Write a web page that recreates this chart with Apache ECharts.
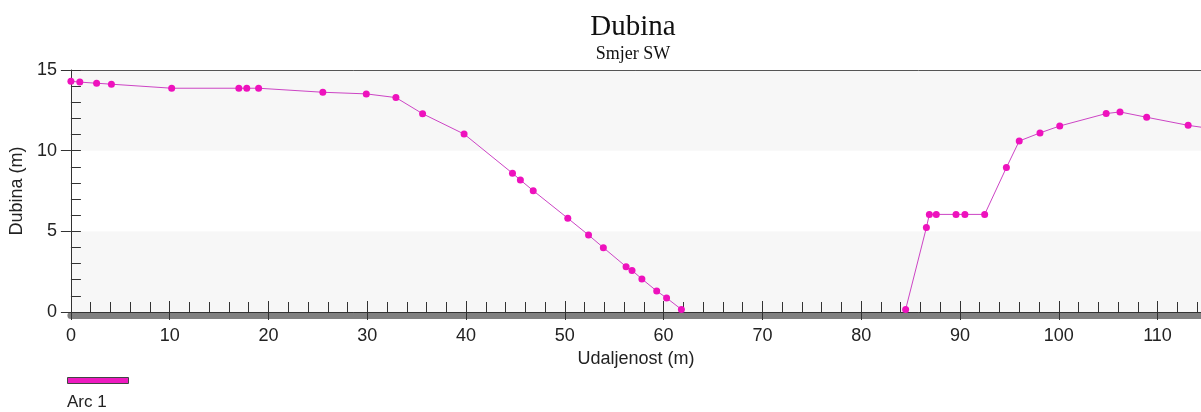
<!DOCTYPE html>
<html>
<head>
<meta charset="utf-8">
<script src="https://cdn.jsdelivr.net/npm/echarts@6/dist/echarts.min.js"></script>
<style>
  html, body { margin: 0; padding: 0; background: #fff; }
  #chart { width: 1201px; height: 412px; }
</style>
</head>
<body>
<div id="chart"></div>
<script>
// udaljenost (m) i dubina (m), procitano sa slike; null = prekid linije
const udaljenost = [0, 0.9, 2.6, 4.1, 10.2, 17.0, 17.8, 19.0, 25.5, 29.9, 32.9, 35.6, 39.8,
  44.7, 45.5, 46.8, 50.3, 52.4, 53.9, 56.2, 56.8, 57.8, 59.3, 60.3, 61.8,
  73,
  84.5, 86.6, 86.9, 87.6, 89.6, 90.5, 92.5, 94.7, 96.0, 98.1, 100.1, 104.8, 106.2, 108.9, 113.1, 115.6];
const dubina = [14.3, 14.25, 14.18, 14.12, 13.87, 13.87, 13.87, 13.87, 13.62, 13.52, 13.29, 12.29, 11.03,
  8.6, 8.18, 7.52, 5.81, 4.77, 3.99, 2.81, 2.58, 2.05, 1.3, 0.87, 0.16,
  null,
  0.16, 5.23, 6.05, 6.05, 6.05, 6.05, 6.05, 8.95, 10.6, 11.1, 11.53, 12.3, 12.4, 12.07, 11.57, 11.35];
const seriesName = 'Arc 1';
const xMin = 0, xMax = 114.4;
const yMin = 0, yMax = 15;

const points = udaljenost.map((x, i) => [x, dubina[i]]);

const axisColor = '#333';
const labelFont = 'Liberation Sans, Arial, sans-serif';

let myChart = echarts.init(document.getElementById('chart'));
myChart.setOption({
  animation: false,
  title: {
    text: 'Dubina',
    subtext: 'Smjer SW',
    left: 628,
    textAlign: 'center',
    top: 8,
    itemGap: 3,
    textStyle: { fontFamily: 'Liberation Serif, Times New Roman, serif', fontSize: 29, fontWeight: 'normal', color: '#111' },
    subtextStyle: { fontFamily: 'Liberation Serif, Times New Roman, serif', fontSize: 18, color: '#111' }
  },
  // legenda: samo traka, tekst ispod ide kroz graphic
  legend: {
    left: 67,
    top: 377,
    padding: 0,
    itemWidth: 61,
    itemHeight: 6,
    icon: 'rect',
    itemStyle: { color: '#ee1ac0', borderColor: '#444', borderWidth: 1 },
    formatter: () => '',
    textStyle: { fontSize: 1 },
    data: [seriesName]
  },
  graphic: [
    {
      type: 'text',
      left: 67,
      top: 394,
      style: { text: seriesName, font: '17px Liberation Sans, Arial, sans-serif', fill: '#222' }
    }
  ],
  grid: { left: 68, right: 0, top: 70, bottom: 100 },
  xAxis: [
    {
      type: 'value', min: xMin, max: xMax, interval: 10, position: 'bottom', z: 3,
      name: 'Udaljenost (m)', nameLocation: 'middle', nameGap: 32,
      nameTextStyle: { fontFamily: labelFont, fontSize: 18, color: '#222' },
      axisLine: { show: true, lineStyle: { color: axisColor, width: 1 } },
      axisTick: { show: true, inside: true, length: 11, lineStyle: { color: axisColor } },
      minorTick: { show: true, splitNumber: 5, length: 10, lineStyle: { color: axisColor } },
      axisLabel: { fontFamily: labelFont, fontSize: 18, color: '#222', margin: 15, showMaxLabel: false },
      splitLine: { show: false }
    },
    {
      type: 'value', min: xMin, max: xMax, interval: 10, position: 'bottom', z: 3,
      axisLine: { show: false },
      axisTick: { show: true, inside: false, length: 8, lineStyle: { color: axisColor } },
      axisLabel: { show: false },
      splitLine: { show: false }
    },
    {
      type: 'value', min: xMin, max: xMax, position: 'bottom', offset: 3, z: 1,
      axisLine: { show: true, lineStyle: { color: '#808080', width: 7 } },
      axisTick: { show: false },
      axisLabel: { show: false },
      splitLine: { show: false }
    },
    {
      type: 'value', min: xMin, max: xMax, position: 'top', z: 3,
      axisLine: { show: true, lineStyle: { color: '#555', width: 1 } },
      axisTick: { show: false },
      axisLabel: { show: false },
      splitLine: { show: false }
    }
  ],
  yAxis: [
    {
      type: 'value', min: yMin, max: yMax, interval: 5, position: 'left', z: 3,
      name: 'Dubina (m)', nameLocation: 'middle', nameGap: 39,
      nameTextStyle: { fontFamily: labelFont, fontSize: 18, color: '#222' },
      axisLine: { show: true, lineStyle: { color: axisColor, width: 1 } },
      axisTick: { show: true, inside: true, length: 10, lineStyle: { color: axisColor } },
      minorTick: { show: true, splitNumber: 5, length: 10, lineStyle: { color: axisColor } },
      axisLabel: { fontFamily: labelFont, fontSize: 18, color: '#222', margin: 14 },
      splitLine: { show: false },
      splitArea: { show: true, areaStyle: { color: ['#f7f7f7', '#ffffff'] } }
    },
    {
      type: 'value', min: yMin, max: yMax, interval: 5, position: 'left', z: 3,
      axisLine: { show: false },
      axisTick: { show: true, inside: false, length: 10, lineStyle: { color: axisColor } },
      axisLabel: { show: false },
      splitLine: { show: false }
    }
  ],
  series: [
    {
      name: seriesName,
      type: 'line',
      xAxisIndex: 0,
      yAxisIndex: 0,
      data: points,
      connectNulls: false,
      clip: true,
      symbol: 'circle',
      symbolSize: 7,
      itemStyle: { color: '#ee12bd' },
      lineStyle: { color: '#cc44c4', width: 1 },
      z: 5
    }
  ]
});
</script>
</body>
</html>
